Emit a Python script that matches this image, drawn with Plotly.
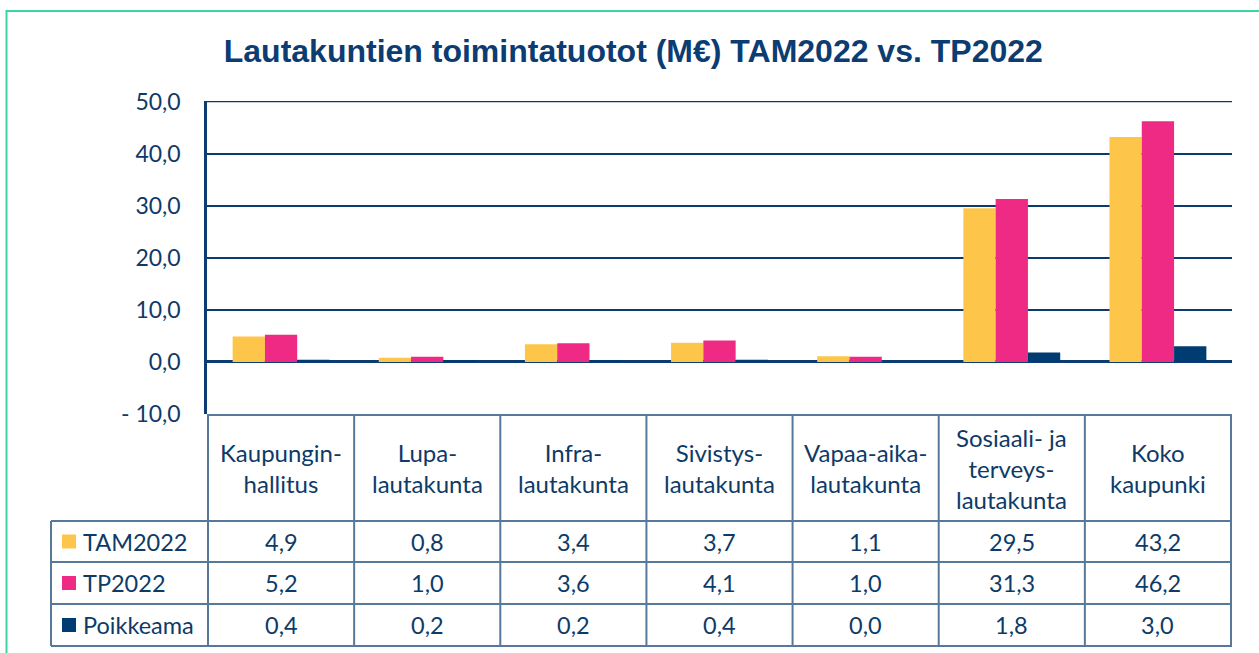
import plotly.graph_objects as go

# data
categories = ["Kaupungin-<br>hallitus", "Lupa-<br>lautakunta", "Infra-<br>lautakunta",
              "Sivistys-<br>lautakunta", "Vapaa-aika-<br>lautakunta",
              "Sosiaali- ja<br>terveys-<br>lautakunta", "Koko<br>kaupunki"]
series_names = ["TAM2022", "TP2022", "Poikkeama"]
tam2022 = [4.9, 0.8, 3.4, 3.7, 1.1, 29.5, 43.2]
tp2022 = [5.2, 1.0, 3.6, 4.1, 1.0, 31.3, 46.2]
poikkeama = [0.4, 0.2, 0.2, 0.4, 0.0, 1.8, 3.0]
y_ticks = [-10, 0, 10, 20, 30, 40, 50]
y_ticktext = ["- 10,0", "0,0", "10,0", "20,0", "30,0", "40,0", "50,0"]

colors = ["#FDC64A", "#EE2A85", "#003B71"]
navy = "#0B3C72"
text_col = "#0E3A68"
grid_col = "#0B3B6E"
table_col = "#56799A"
body_font = "Lato"

W, H = 1259, 653
L, R, T, B = 207, 1232, 101, 414   # plot area in pixels


def py(p):
    # pixel row -> paper y
    return (B - p) / (B - T)


def px(p):
    # pixel column -> paper x
    return (p - L) / (R - L)


fig = go.Figure()
for name, vals, c in zip(series_names, [tam2022, tp2022, poikkeama], colors):
    fig.add_trace(go.Bar(x=categories, y=vals, name=name, marker=dict(color=c, line=dict(width=0))))

shapes = []
annotations = []

# top gridline (plotly drops the one on the plot edge)
shapes.append(dict(type="line", xref="paper", yref="y", x0=0, x1=1,
                   y0=max(y_ticks), y1=max(y_ticks), line=dict(color=grid_col, width=1.5)))

# table: header row and data rows
hdr_top, hdr_bot = 415, 521
row_lines = [521, 562, 604, 646]
for i in range(len(categories) + 1):
    shapes.append(dict(type="line", xref="x", yref="paper", x0=i - 0.5, x1=i - 0.5,
                       y0=py(hdr_top), y1=py(row_lines[-1]),
                       line=dict(color=table_col, width=2), layer="above"))
shapes.append(dict(type="line", xref="paper", yref="paper", x0=0, x1=1,
                   y0=py(hdr_top), y1=py(hdr_top), line=dict(color=table_col, width=2), layer="above"))
for r in row_lines:
    shapes.append(dict(type="line", xref="paper", yref="paper", x0=px(51), x1=1,
                       y0=py(r), y1=py(r), line=dict(color=table_col, width=2), layer="above"))
shapes.append(dict(type="line", xref="paper", yref="paper", x0=px(51), x1=px(51),
                   y0=py(row_lines[0]), y1=py(row_lines[-1]), line=dict(color=table_col, width=2)))

# header labels
for cat in categories:
    annotations.append(dict(x=cat, xref="x", y=py((hdr_top + hdr_bot) / 2), yref="paper",
                            text=cat, showarrow=False, yanchor="middle", xanchor="center",
                            font=dict(family=body_font, size=24, color=text_col)))

# data rows
for k, (name, vals, c) in enumerate(zip(series_names, [tam2022, tp2022, poikkeama], colors)):
    yc = (row_lines[k] + row_lines[k + 1]) / 2
    shapes.append(dict(type="rect", xref="paper", yref="paper", x0=px(62), x1=px(76),
                       y0=py(yc - 7), y1=py(yc + 7), fillcolor=c, line=dict(width=0)))
    annotations.append(dict(x=px(81), xref="paper", y=py(yc), yref="paper", text=name,
                            showarrow=False, xanchor="left", yanchor="middle",
                            font=dict(family=body_font, size=23.5, color=text_col)))
    for cat, v in zip(categories, vals):
        annotations.append(dict(x=cat, xref="x", y=py(yc), yref="paper",
                                text=f"{v:.1f}".replace(".", ","), showarrow=False,
                                xanchor="center", yanchor="middle",
                                font=dict(family=body_font, size=23.5, color=text_col)))

# outer green frame
shapes.append(dict(type="rect", xref="paper", yref="paper", x0=px(6.5), x1=px(W + 20),
                   y0=py(H + 20), y1=py(11), line=dict(color="#3DD69C", width=2)))

fig.update_layout(
    width=W, height=H,
    margin=dict(l=L, r=W - R, t=T, b=H - B),
    paper_bgcolor="white", plot_bgcolor="white",
    showlegend=False,
    barmode="group", bargap=0.337, bargroupgap=0,
    title=dict(text="<b>Lautakuntien toimintatuotot (M€) TAM2022 vs. TP2022</b>",
               x=0.503, xref="container", xanchor="center",
               y=1 - 51 / H, yref="container", yanchor="middle",
               font=dict(family="Liberation Sans", size=32, color=navy)),
    xaxis=dict(showticklabels=False, showgrid=False, ticks="", showline=False, zeroline=False),
    yaxis=dict(range=[-10, 50.1], tickvals=y_ticks, ticktext=y_ticktext,
               showgrid=True, gridcolor=grid_col, gridwidth=1.5,
               zeroline=True, zerolinecolor=navy, zerolinewidth=2.5,
               showline=True, linecolor=navy, linewidth=2.5,
               ticks="", ticklabelstandoff=19, automargin=False,
               tickfont=dict(family=body_font, size=23, color=text_col)),
    shapes=shapes,
    annotations=annotations,
)

fig.write_html("out.html", config={"displayModeBar": False},
               post_script="document.body.style.margin='0';")
